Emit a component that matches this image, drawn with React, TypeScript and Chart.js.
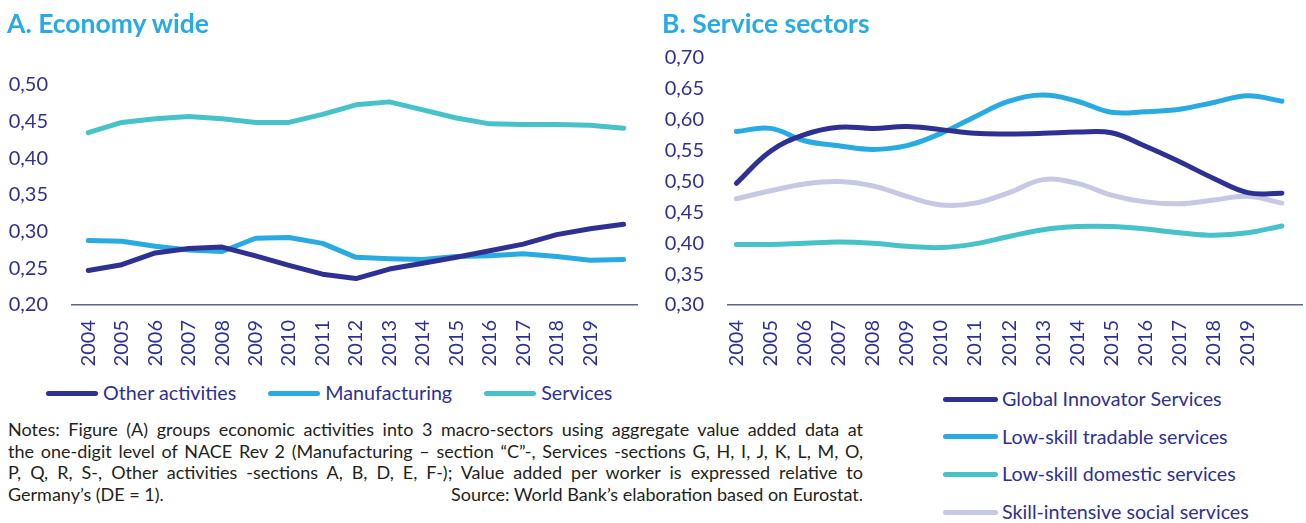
import React, { useEffect, useRef } from "react";
import { Chart, registerables } from "chart.js";

Chart.register(...registerables);

// ---------- data ----------
const years = [2004, 2005, 2006, 2007, 2008, 2009, 2010, 2011, 2012, 2013, 2014, 2015, 2016, 2017, 2018, 2019, 2020];
const yearTicks = [2004, 2005, 2006, 2007, 2008, 2009, 2010, 2011, 2012, 2013, 2014, 2015, 2016, 2017, 2018, 2019];

// Panel A: Economy wide
const otherActivities = [0.247, 0.255, 0.271, 0.277, 0.279, 0.267, 0.254, 0.242, 0.236, 0.249, 0.257, 0.265, 0.274, 0.283, 0.296, 0.304, 0.310];
const manufacturing = [0.288, 0.287, 0.280, 0.275, 0.273, 0.291, 0.292, 0.284, 0.265, 0.263, 0.262, 0.266, 0.267, 0.270, 0.266, 0.261, 0.262];
const services = [0.435, 0.449, 0.454, 0.457, 0.454, 0.449, 0.449, 0.460, 0.473, 0.477, 0.466, 0.455, 0.447, 0.446, 0.446, 0.445, 0.441];

// Panel B: Service sectors
const globalInnovator = [0.497, 0.549, 0.576, 0.588, 0.586, 0.589, 0.584, 0.578, 0.577, 0.578, 0.580, 0.579, 0.557, 0.532, 0.505, 0.482, 0.481];
const lowSkillTradable = [0.581, 0.586, 0.566, 0.558, 0.552, 0.558, 0.578, 0.605, 0.630, 0.640, 0.630, 0.612, 0.613, 0.617, 0.628, 0.639, 0.630];
const lowSkillDomestic = [0.398, 0.398, 0.400, 0.402, 0.400, 0.395, 0.393, 0.399, 0.411, 0.422, 0.427, 0.427, 0.423, 0.417, 0.413, 0.417, 0.428];
const skillIntensiveSocial = [0.472, 0.485, 0.496, 0.500, 0.493, 0.476, 0.462, 0.465, 0.482, 0.503, 0.497, 0.478, 0.467, 0.464, 0.470, 0.476, 0.465];

const seriesNamesA = ["Other activities", "Manufacturing", "Services"];
const seriesNamesB = ["Global Innovator Services", "Low-skill tradable services", "Low-skill domestic services", "Skill-intensive social services"];

const titleA = "A. Economy wide";
const titleB = "B. Service sectors";

const notesLines = [
  "Notes: Figure (A) groups economic activities into 3 macro-sectors using aggregate value added data at",
  "the one-digit level of NACE Rev 2 (Manufacturing – section “C”-, Services -sections G, H, I, J, K, L, M, O,",
  "P, Q, R, S-, Other activities -sections A, B, D, E, F-); Value added per worker is expressed relative to",
];
const notesLastLeft = "Germany’s (DE = 1).";
const notesSource = "Source: World Bank’s elaboration based on Eurostat.";

// ---------- styles ----------
const NAVY = "#2E3191";
const BLUE = "#29ABE2";
const TEAL = "#47C2C9";
const LAVENDER = "#C5C9E3";
const AXIS = "#5A6782";
const FONT = "Lato, 'Open Sans', sans-serif";

const colorsA = [NAVY, BLUE, TEAL];
const colorsB = [NAVY, BLUE, TEAL, LAVENDER];

Chart.defaults.font.family = FONT;

function fmt(v: number) {
  return Number(v).toFixed(2).replace(".", ",");
}

function buildConfig(
  series: number[][],
  names: string[],
  colors: string[],
  yMin: number,
  yMax: number,
  xMin: number,
  xMax: number,
  padTop: number,
  padRight: number,
  yWidth: number,
  xHeight: number,
  tension: number
): any {
  return {
    type: "line",
    data: {
      datasets: series.map((vals, i) => ({
        label: names[i],
        data: vals.map((v, j) => ({ x: years[j], y: v })),
        borderColor: colors[i],
        backgroundColor: colors[i],
        borderWidth: 5,
        borderCapStyle: "round",
        borderJoinStyle: "round",
        pointRadius: 0,
        pointHoverRadius: 0,
        tension,
        fill: false,
      })),
    },
    options: {
      responsive: false,
      animation: false,
      events: [],
      layout: { padding: { top: padTop, right: padRight, left: 0, bottom: 0 } },
      plugins: { legend: { display: false }, tooltip: { enabled: false }, title: { display: false } },
      scales: {
        x: {
          type: "linear",
          min: xMin,
          max: xMax,
          bounds: "data",
          grid: { display: false, drawTicks: false },
          border: { display: true, color: AXIS, width: 1.5 },
          afterBuildTicks: (scale: any) => {
            scale.ticks = yearTicks.map((v) => ({ value: v }));
          },
          afterFit: (scale: any) => {
            scale.height = xHeight;
          },
          ticks: {
            autoSkip: false,
            minRotation: 90,
            maxRotation: 90,
            padding: 15,
            color: NAVY,
            font: { family: FONT, size: 20 },
            callback: (v: any) => String(v),
          },
        },
        y: {
          min: yMin,
          max: yMax,
          grid: { display: false, drawTicks: false },
          border: { display: false },
          afterFit: (scale: any) => {
            scale.width = yWidth;
          },
          ticks: {
            stepSize: 0.05,
            padding: 24,
            color: NAVY,
            font: { family: FONT, size: 20 },
            callback: (v: any) => fmt(v),
          },
        },
      },
    },
  };
}

function LegendSwatch({ color, width }: { color: string; width: number }) {
  return (
    <div
      style={{
        width,
        height: 5,
        borderRadius: 2.5,
        background: color,
        flex: "0 0 auto",
      }}
    />
  );
}

export default function App() {
  const refA = useRef<HTMLCanvasElement | null>(null);
  const refB = useRef<HTMLCanvasElement | null>(null);

  useEffect(() => {
    const chartA = new Chart(
      refA.current as HTMLCanvasElement,
      buildConfig(
        [otherActivities, manufacturing, services],
        seriesNamesA,
        colorsA,
        0.2,
        0.5,
        2003.513,
        2020.4,
        85,
        13,
        72,
        75,
        0
      )
    );
    const chartB = new Chart(
      refB.current as HTMLCanvasElement,
      buildConfig(
        [globalInnovator, lowSkillTradable, lowSkillDomestic, skillIntensiveSocial],
        seriesNamesB,
        colorsB,
        0.3,
        0.7,
        2003.754,
        2020.59,
        58,
        4,
        78,
        75,
        0.4
      )
    );
    return () => {
      chartA.destroy();
      chartB.destroy();
    };
  }, []);

  const titleStyle: React.CSSProperties = {
    position: "absolute",
    top: 9.5,
    fontFamily: FONT,
    fontWeight: 700,
    fontSize: 26.5,
    lineHeight: "26.5px",
    color: BLUE,
    whiteSpace: "nowrap",
  };

  const legendText: React.CSSProperties = {
    fontFamily: FONT,
    fontSize: 19.7,
    lineHeight: "24px",
    color: NAVY,
    whiteSpace: "nowrap",
  };

  return (
    <div
      style={{
        position: "absolute",
        left: 0,
        top: 0,
        width: 1306,
        height: 523,
        background: "#ffffff",
        overflow: "hidden",
        fontFamily: FONT,
      }}
    >
      <div style={{ position: "absolute", left: 0, top: 0, width: 650, height: 380 }}>
        <canvas ref={refA} width={650} height={380} style={{ display: "block" }} />
      </div>
      <div style={{ position: "absolute", left: 650, top: 0, width: 656, height: 380 }}>
        <canvas ref={refB} width={656} height={380} style={{ display: "block" }} />
      </div>

      <div style={{ ...titleStyle, left: 7 }}>{titleA}</div>
      <div style={{ ...titleStyle, left: 662 }}>{titleB}</div>

      {/* Legend A */}
      <div
        style={{
          position: "absolute",
          left: 46,
          top: 381.3,
          height: 24,
          display: "flex",
          alignItems: "center",
        }}
      >
        {seriesNamesA.map((n, i) => (
          <div key={n} style={{ display: "flex", alignItems: "center", marginRight: 32 }}>
            <LegendSwatch color={colorsA[i]} width={52} />
            <span style={{ ...legendText, marginLeft: 5 }}>{n}</span>
          </div>
        ))}
      </div>

      {/* Legend B */}
      <div
        style={{
          position: "absolute",
          left: 943,
          top: 380.5,
          display: "flex",
          flexDirection: "column",
        }}
      >
        {seriesNamesB.map((n, i) => (
          <div key={n} style={{ display: "flex", alignItems: "center", height: 37.6 }}>
            <LegendSwatch color={colorsB[i]} width={55} />
            <span style={{ ...legendText, marginLeft: 4 }}>{n}</span>
          </div>
        ))}
      </div>

      {/* Notes */}
      <div
        style={{
          position: "absolute",
          left: 8,
          top: 419,
          width: 855,
          fontFamily: FONT,
          fontSize: 18,
          lineHeight: "21.5px",
          color: "#231F20",
        }}
      >
        {notesLines.map((l) => (
          <div key={l} style={{ textAlign: "justify", textAlignLast: "justify" } as React.CSSProperties}>
            {l}
          </div>
        ))}
        <div style={{ display: "flex", justifyContent: "space-between" }}>
          <span>{notesLastLeft}</span>
          <span>{notesSource}</span>
        </div>
      </div>
    </div>
  );
}
